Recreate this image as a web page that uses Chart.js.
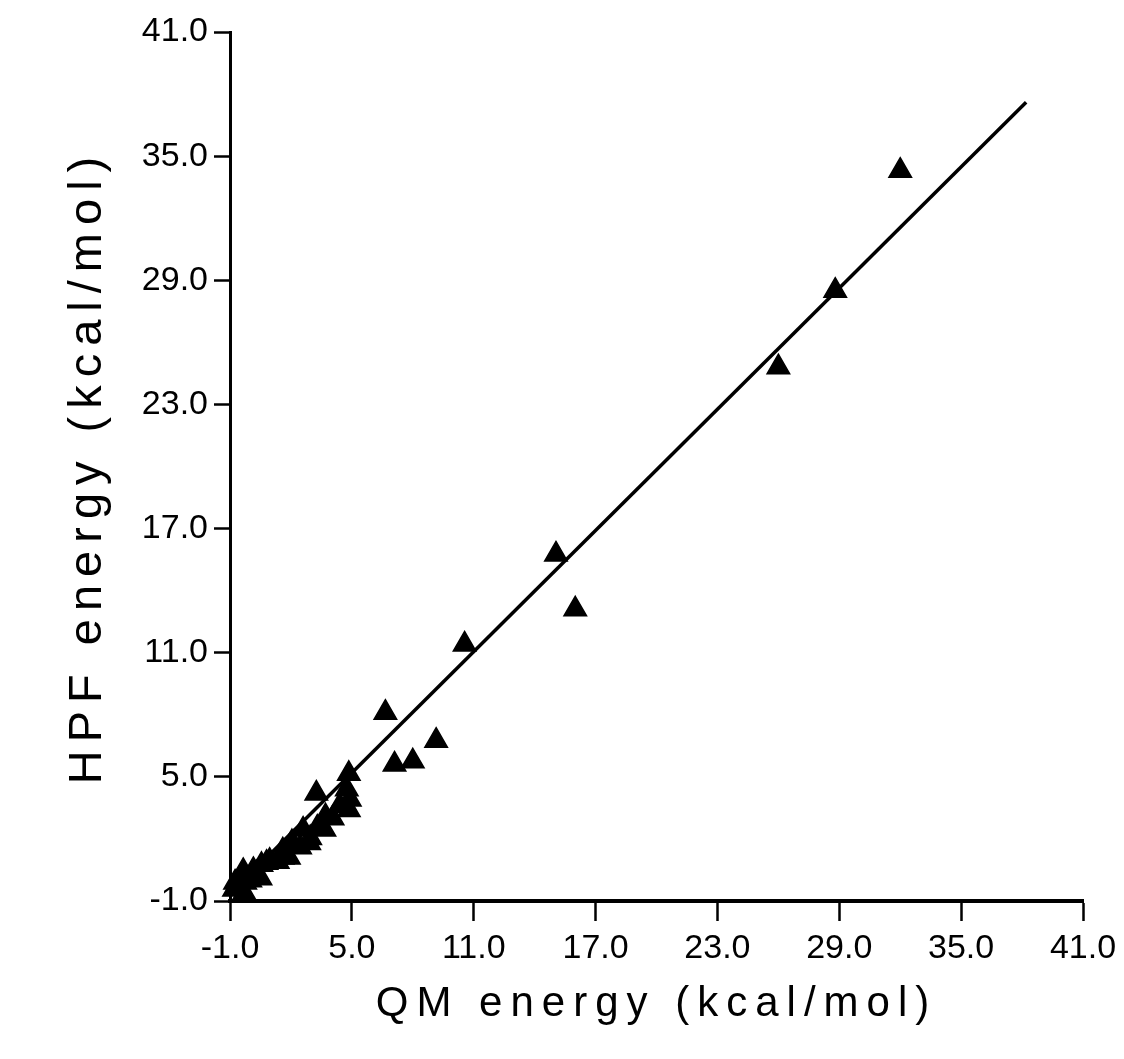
<!DOCTYPE html>
<html>
<head>
<meta charset="utf-8">
<title>HPF vs QM energy</title>
<script src="https://cdn.jsdelivr.net/npm/chart.js@4/dist/chart.umd.min.js"></script>
<style>
  html, body { margin: 0; padding: 0; background: #ffffff; }
  #wrap { width: 1124px; height: 1059px; }
</style>
</head>
<body>
<div id="wrap"><canvas id="chart" width="1124" height="1059"></canvas></div>
<script>
// QM reference energies (kcal/mol)
const qmEnergy = [
  32.0, 28.8, 26.0, 15.05, 16.0, 10.55, 6.65, 9.15, 8.0, 7.1, 4.85, 3.25,
  4.75, 4.9, 4.85, 4.4, 4.05, 3.7, 3.65, 3.3, 2.95, 2.6, 2.45, 2.05, 1.95,
  1.6, 1.6, 1.35, 0.95, 0.8, 0.55, 0.3, 0.15, 0.0, -0.35, -0.25, -0.75, -0.8,
  0.5, 1.9, 2.9, -0.3
];
// HPF force-field energies (kcal/mol)
const hpfEnergy = [
  34.3, 28.5, 24.8, 15.75, 13.1, 11.4, 8.1, 6.75, 5.75, 5.6, 5.15, 4.2,
  4.4, 3.9, 3.4, 3.6, 3.0, 3.1, 2.45, 2.55, 2.05, 2.45, 1.6, 1.85, 1.65,
  1.45, 1.1, 0.9, 0.95, 0.85, 0.75, 0.35, 0.5, 0.0, 0.45, -0.1, -0.1, -0.45,
  0.1, 1.1, 1.8, -0.6
];
// least-squares fit line end points
const fitX = [-0.8, 38.2];
const fitY = [-0.47, 37.6];

const xTickValues = [-1, 5, 11, 17, 23, 29, 35, 41];
const xTickLabels = ['-1.0', '5.0', '11.0', '17.0', '23.0', '29.0', '35.0', '41.0'];
const yTickValues = [-1, 5, 11, 17, 23, 29, 35, 41];
const yTickLabels = ['-1.0', '5.0', '11.0', '17.0', '23.0', '29.0', '35.0', '41.0'];

const xTitle = 'QM energy (kcal/mol)';
const yTitle = 'HPF energy (kcal/mol)';

const FONT = '"Liberation Sans", Arial, sans-serif';

const points = qmEnergy.map((x, i) => ({ x: x, y: hpfEnergy[i] }));
const fitLine = fitX.map((x, i) => ({ x: x, y: fitY[i] }));

// widen the lettering of the axis titles, then reset it for the tick labels
const spacingPlugin = {
  id: 'letterSpacing',
  beforeDraw(chart) { chart.ctx.letterSpacing = '8px'; },
  beforeDatasetsDraw(chart) { chart.ctx.letterSpacing = '0px'; }
};

new Chart(document.getElementById('chart'), {
  type: 'scatter',
  data: {
    datasets: [
      {
        label: 'fit',
        data: fitLine,
        showLine: true,
        borderColor: '#000',
        borderWidth: 3.5,
        pointRadius: 0,
        fill: false,
        clip: false
      },
      {
        label: 'energies',
        data: points,
        pointStyle: 'triangle',
        pointRadius: 13,
        backgroundColor: '#000',
        borderColor: '#000',
        borderWidth: 1.5,
        clip: false
      }
    ]
  },
  options: {
    responsive: false,
    animation: false,
    layout: { padding: { top: 32, right: 41, left: 0, bottom: 0 } },
    plugins: {
      legend: { display: false },
      tooltip: { enabled: false }
    },
    scales: {
      x: {
        type: 'linear',
        min: -1,
        max: 41,
        afterFit(scale) { scale.height = 158; },
        afterBuildTicks(scale) { scale.ticks = xTickValues.map(v => ({ value: v })); },
        border: { display: true, color: '#000', width: 4 },
        grid: { drawOnChartArea: false, drawTicks: true, tickLength: 20, tickWidth: 2.5, tickColor: '#000' },
        ticks: {
          z: 1,
          color: '#000',
          padding: 7,
          maxRotation: 0,
          font: { family: FONT, size: 34 },
          callback: (v, i) => xTickLabels[i]
        },
        title: {
          display: true,
          text: xTitle,
          color: '#000',
          font: { family: FONT, size: 42 },
          padding: { top: 0, bottom: 29 }
        }
      },
      y: {
        type: 'linear',
        min: -1,
        max: 41,
        afterFit(scale) { scale.width = 230; },
        afterBuildTicks(scale) { scale.ticks = yTickValues.map(v => ({ value: v })); },
        border: { display: true, color: '#000', width: 3 },
        grid: { drawOnChartArea: false, drawTicks: true, tickLength: 16, tickWidth: 2.5, tickColor: '#000' },
        ticks: {
          z: 1,
          color: '#000',
          padding: 6,
          font: { family: FONT, size: 34 },
          callback: (v, i) => yTickLabels[i]
        },
        title: {
          display: true,
          text: yTitle,
          color: '#000',
          font: { family: FONT, size: 47 },
          padding: { top: 60, bottom: 0 }
        }
      }
    }
  },
  plugins: [spacingPlugin]
});
</script>
</body>
</html>
